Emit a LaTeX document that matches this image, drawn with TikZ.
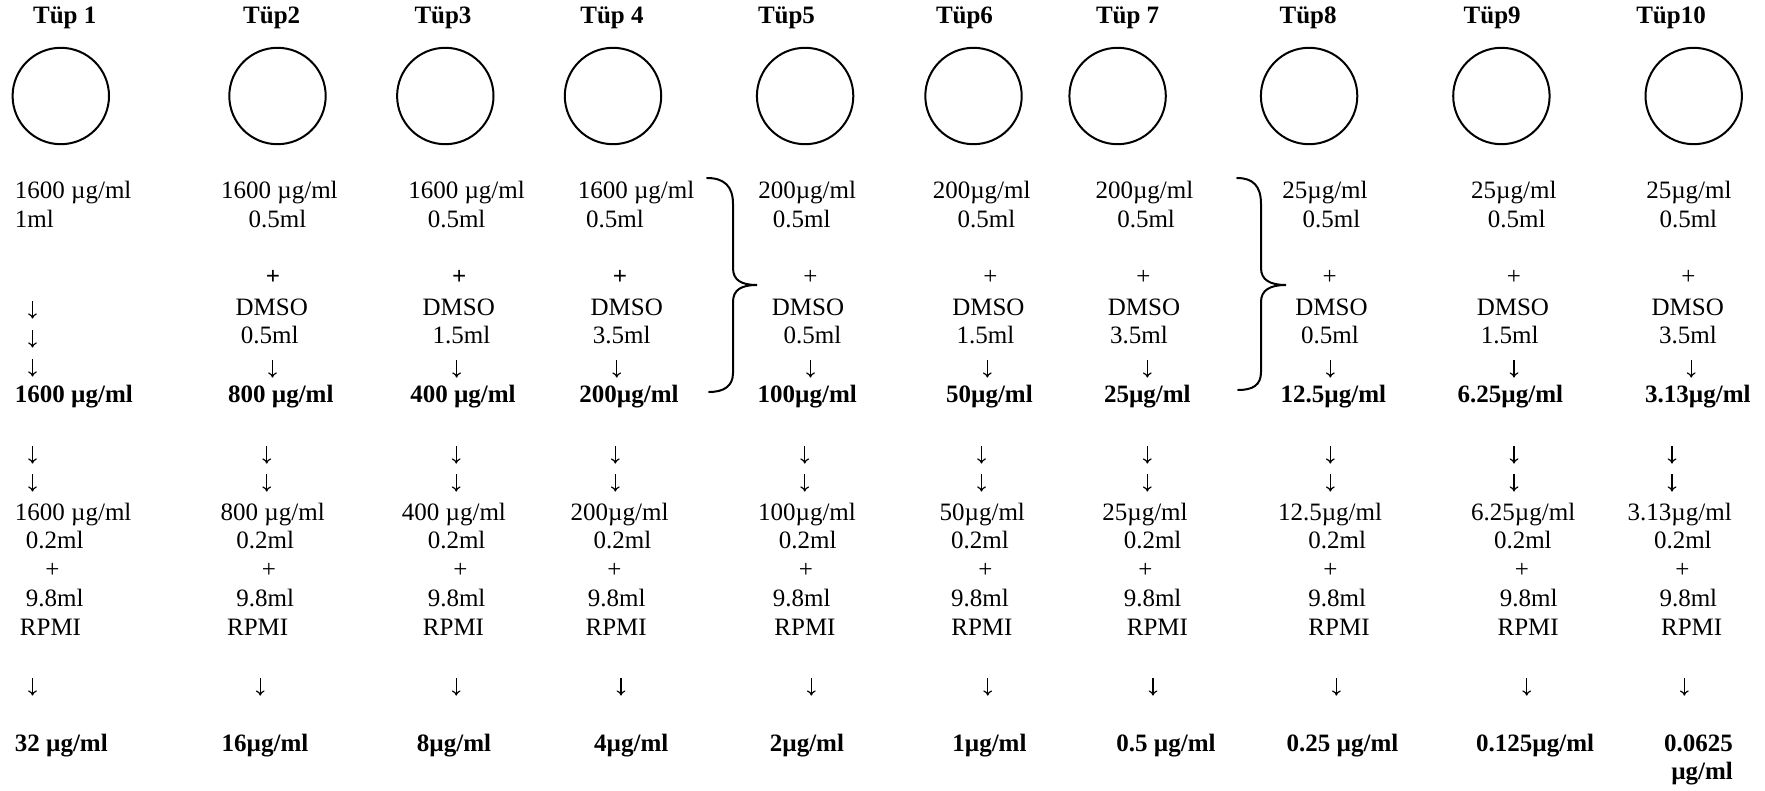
\documentclass[tikz,border=0pt]{standalone}
\usepackage{fontspec}
\setmainfont{Liberation Serif}
\usetikzlibrary{arrows.meta}
\newcommand\fsz{\fontsize{12.5pt}{14.5pt}\selectfont}
\begin{document}
\begin{tikzpicture}[x=0.5pt,y=-0.5pt,
  txt/.style={font=\fsz, anchor=base, inner sep=0pt},
  txtl/.style={txt, anchor=base west},
  bld/.style={font=\fsz\bfseries, anchor=base, inner sep=0pt},
  bldl/.style={bld, anchor=base west},
  % a thin downward arrow, as typed between the lines
  darr/.style={minimum width=6pt, minimum height=8.6pt, inner sep=0pt, outer sep=0pt,
    path picture={\draw[line width=0.6pt, -{To[length=2.6pt,width=4.4pt]}]
      (path picture bounding box.north) -- (path picture bounding box.south);}},
  tube/.style={circle, draw, line width=1pt, minimum size=48.2pt, inner sep=0pt},
  bracket/.style={line width=1pt, line cap=round}]
\useasboundingbox (0,0) rectangle (1765,791);

% tube titles
\node[bld] (t1)  at (64.7,23.3)   {Tüp 1};
\node[bld] (t2)  at (271.7,23.3)  {Tüp2};
\node[bld] (t3)  at (443,23.3)    {Tüp3};
\node[bld] (t4)  at (612,23.3)    {Tüp 4};
\node[bld] (t5)  at (786.5,23.3)  {Tüp5};
\node[bld] (t6)  at (964.5,23.3)  {Tüp6};
\node[bld] (t7)  at (1127.6,23.3) {Tüp 7};
\node[bld] (t8)  at (1308.1,23.3) {Tüp8};
\node[bld] (t9)  at (1492.2,23.3) {Tüp9};
\node[bld] (t10) at (1671,23.3)   {Tüp10};

% tubes
\node[tube] (c1)  at (60.8,96)   {};
\node[tube] (c2)  at (277.5,96)  {};
\node[tube] (c3)  at (445.3,96)  {};
\node[tube] (c4)  at (613,96)    {};
\node[tube] (c5)  at (805.1,96)  {};
\node[tube] (c6)  at (973.5,96)  {};
\node[tube] (c7)  at (1117.6,96) {};
\node[tube] (c8)  at (1309.1,96) {};
\node[tube] (c9)  at (1501.4,96) {};
\node[tube] (c10) at (1693.7,96) {};

% ---- stock dilution in DMSO ----
% tube 1
\node[txtl] (a1) at (14.5,198.3) {1600 µg/ml};
\node[txtl] (b1) at (14.5,227.3) {1ml};
\node[darr] (d1) at (32.5,310) {};
\node[darr] (e1) at (32.5,339) {};
\node[darr] (f1) at (32.5,368) {};
\node[bldl] (g1) at (14.5,402) {1600 µg/ml};
% tube 2
\node[txt] (a2) at (279.4,198.3) {1600 µg/ml};
\node[txt] (b2) at (277.4,227.3) {0.5ml};
\node[bld] (p2) at (272.9,284.5) {+};
\node[txt] (d2) at (271.7,315) {DMSO};
\node[txt] (e2) at (269.8,343.5) {0.5ml};
\node[darr] (f2) at (272.5,369) {};
\node[bld] (g2) at (280.8,402) {800 µg/ml};
% tube 3
\node[txt] (a3) at (466.5,198.3) {1600 µg/ml};
\node[txt] (b3) at (456.6,227.3) {0.5ml};
\node[bld] (p3) at (459.2,284.5) {+};
\node[txt] (d3) at (458.7,315) {DMSO};
\node[txt] (e3) at (461.5,343.5) {1.5ml};
\node[darr] (f3) at (456.6,369) {};
\node[bld] (g3) at (463,402) {400 µg/ml};
% tube 4
\node[txt] (a4) at (636,198.3) {1600 µg/ml};
\node[txt] (b4) at (615,227.3) {0.5ml};
\node[bld] (p4) at (620,284.5) {+};
\node[txt] (d4) at (626.7,315) {DMSO};
\node[txt] (e4) at (621.7,343.5) {3.5ml};
\node[darr] (f4) at (616.7,369) {};
\node[bld] (g4) at (629,402) {200µg/ml};
% tube 5
\node[txt] (a5) at (807.2,198.3) {200µg/ml};
\node[txt] (b5) at (801.7,227.3) {0.5ml};
\node[txt] (p5) at (810.5,284.5) {+};
\node[txt] (d5) at (808,315) {DMSO};
\node[txt] (e5) at (812.4,343.5) {0.5ml};
\node[darr] (f5) at (810.5,369) {};
\node[bld] (g5) at (807.2,402) {100µg/ml};
% tube 6
\node[txt] (a6) at (981.7,198.3) {200µg/ml};
\node[txt] (b6) at (986.5,227.3) {0.5ml};
\node[txt] (p6) at (990.4,284.5) {+};
\node[txt] (d6) at (988.4,315) {DMSO};
\node[txt] (e6) at (985.5,343.5) {1.5ml};
\node[darr] (f6) at (987.3,369) {};
\node[bld] (g6) at (989.4,402) {50µg/ml};
% tube 7
\node[txt] (a7) at (1144.4,198.3) {200µg/ml};
\node[txt] (b7) at (1146.1,227.3) {0.5ml};
\node[txt] (p7) at (1143.4,284.5) {+};
\node[txt] (d7) at (1144,315) {DMSO};
\node[txt] (e7) at (1139,343.5) {3.5ml};
\node[darr] (f7) at (1147.3,369) {};
\node[bld] (g7) at (1147.3,402) {25µg/ml};
% tube 8
\node[txt] (a8) at (1325,198.3) {25µg/ml};
\node[txt] (b8) at (1331.5,227.3) {0.5ml};
\node[txt] (p8) at (1329.6,284.5) {+};
\node[txt] (d8) at (1331.5,315) {DMSO};
\node[txt] (e8) at (1330,343.5) {0.5ml};
\node[darr] (f8) at (1330.3,369) {};
\node[bld] (g8) at (1333.4,402) {12.5µg/ml};
% tube 9
\node[txt] (a9) at (1513.8,198.3) {25µg/ml};
\node[txt] (b9) at (1516.7,227.3) {0.5ml};
\node[txt] (p9) at (1514,284.5) {+};
\node[txt] (d9) at (1512.9,315) {DMSO};
\node[txt] (e9) at (1509.6,343.5) {1.5ml};
\node[darr] (f9) at (1514,369) {};
\node[bld] (g9) at (1510.4,402) {6.25µg/ml};
% tube 10
\node[txt] (a10) at (1688.9,198.3) {25µg/ml};
\node[txt] (b10) at (1688.3,227.3) {0.5ml};
\node[txt] (p10) at (1688.5,284.5) {+};
\node[txt] (d10) at (1687.7,315) {DMSO};
\node[txt] (e10) at (1688,343.5) {3.5ml};
\node[darr] (f10) at (1691.2,369) {};
\node[bld] (g10) at (1697.9,402) {3.13µg/ml};

% braces joining the 200 and 25 µg/ml stocks
\draw[bracket] (707,178) .. controls (724,178) and (733,186) .. (733,204)
  -- (733,268) .. controls (733,280) and (741,285) .. (757,285)
  .. controls (741,285) and (733,290) .. (733,302)
  -- (733,373) .. controls (733,386) and (724,392) .. (709,392);
\draw[bracket] (1237,178) .. controls (1253,178) and (1261,186) .. (1261,204)
  -- (1261,268) .. controls (1261,280) and (1270,285) .. (1286,285)
  .. controls (1270,285) and (1261,290) .. (1261,302)
  -- (1261,372) .. controls (1261,385) and (1253,390) .. (1238,390);

% ---- working dilution in RPMI ----
\foreach \i/\x in {1/32.5,2/266.7,3/456.2,4/615.3,5/804.7,6/981.5,7/1147.3,8/1330.3,9/1514,10/1672}{
  \node[darr] (h\i) at (\x,455) {};
  \node[darr] (k\i) at (\x,483) {};
}
% tube 1
\node[txtl] (m1) at (14.5,520) {1600 µg/ml};
\node[txt] (n1) at (54.7,548.5) {0.2ml};
\node[txt] (q1) at (52.4,577) {+};
\node[txt] (r1) at (54.7,606.5) {9.8ml};
\node[txt] (s1) at (50.5,635) {RPMI};
\node[darr] (u1) at (32.5,687) {};
\node[bldl] (v1) at (14.5,751.5) {32 µg/ml};
% tube 2
\node[txt] (m2) at (272.7,520) {800 µg/ml};
\node[txt] (n2) at (265.2,548.5) {0.2ml};
\node[txt] (q2) at (269,577) {+};
\node[txt] (r2) at (265.2,606.5) {9.8ml};
\node[txt] (s2) at (257.7,635) {RPMI};
\node[darr] (u2) at (260.2,687) {};
\node[bld] (v2) at (265,751.5) {16µg/ml};
% tube 3
\node[txt] (m3) at (453.9,520) {400 µg/ml};
\node[txt] (n3) at (456.6,548.5) {0.2ml};
\node[txt] (q3) at (460.4,577) {+};
\node[txt] (r3) at (456.6,606.5) {9.8ml};
\node[txt] (s3) at (453.5,635) {RPMI};
\node[darr] (u3) at (456.2,687) {};
\node[bld] (v3) at (454,751.5) {8µg/ml};
% tube 4
\node[txt] (m4) at (619.6,520) {200µg/ml};
\node[txt] (n4) at (622.4,548.5) {0.2ml};
\node[txt] (q4) at (614.5,577) {+};
\node[txt] (r4) at (616.7,606.5) {9.8ml};
\node[txt] (s4) at (616.2,635) {RPMI};
\node[darr] (u4) at (621,687) {};
\node[bld] (v4) at (631.3,751.5) {4µg/ml};
% tube 5
\node[txt] (m5) at (807,520) {100µg/ml};
\node[txt] (n5) at (807.8,548.5) {0.2ml};
\node[txt] (q5) at (805.9,577) {+};
\node[txt] (r5) at (801.7,606.5) {9.8ml};
\node[txt] (s5) at (805,635) {RPMI};
\node[darr] (u5) at (811.3,687) {};
\node[bld] (v5) at (806.9,751.5) {2µg/ml};
% tube 6
\node[txt] (m6) at (982.3,520) {50µg/ml};
\node[txt] (n6) at (980,548.5) {0.2ml};
\node[txt] (q6) at (985.4,577) {+};
\node[txt] (r6) at (980,606.5) {9.8ml};
\node[txt] (s6) at (981.9,635) {RPMI};
\node[darr] (u6) at (987.7,687) {};
\node[bld] (v6) at (989.4,751.5) {1µg/ml};
% tube 7
\node[txt] (m7) at (1145,520) {25µg/ml};
\node[txt] (n7) at (1152.6,548.5) {0.2ml};
\node[txt] (q7) at (1145.3,577) {+};
\node[txt] (r7) at (1152.6,606.5) {9.8ml};
\node[txt] (s7) at (1157.4,635) {RPMI};
\node[darr] (u7) at (1153,687) {};
\node[bld] (v7) at (1166,751.5) {0.5 µg/ml};
% tube 8
\node[txt] (m8) at (1330,520) {12.5µg/ml};
\node[txt] (n8) at (1337.2,548.5) {0.2ml};
\node[txt] (q8) at (1330.3,577) {+};
\node[txt] (r8) at (1337.2,606.5) {9.8ml};
\node[txt] (s8) at (1339,635) {RPMI};
\node[darr] (u8) at (1336.4,687) {};
\node[bld] (v8) at (1342.5,751.5) {0.25 µg/ml};
% tube 9
\node[txt] (m9) at (1523.2,520) {6.25µg/ml};
\node[txt] (n9) at (1522.8,548.5) {0.2ml};
\node[txt] (q9) at (1522,577) {+};
\node[txt] (r9) at (1528.6,606.5) {9.8ml};
\node[txt] (s9) at (1528.2,635) {RPMI};
\node[darr] (u9) at (1526.7,687) {};
\node[bld] (v9) at (1535.1,751.5) {0.125µg/ml};
% tube 10
\node[txt] (m10) at (1679.7,520) {3.13µg/ml};
\node[txt] (n10) at (1682.8,548.5) {0.2ml};
\node[txt] (q10) at (1682.4,577) {+};
\node[txt] (r10) at (1688.3,606.5) {9.8ml};
\node[txt] (s10) at (1691.7,635) {RPMI};
\node[darr] (u10) at (1684.3,687) {};
\node[bld, anchor=base east] (v10) at (1733.3,751.5) {0.0625};
\node[bld, anchor=base east] (w10) at (1733.3,779.5) {µg/ml};
\end{tikzpicture}
\end{document}
